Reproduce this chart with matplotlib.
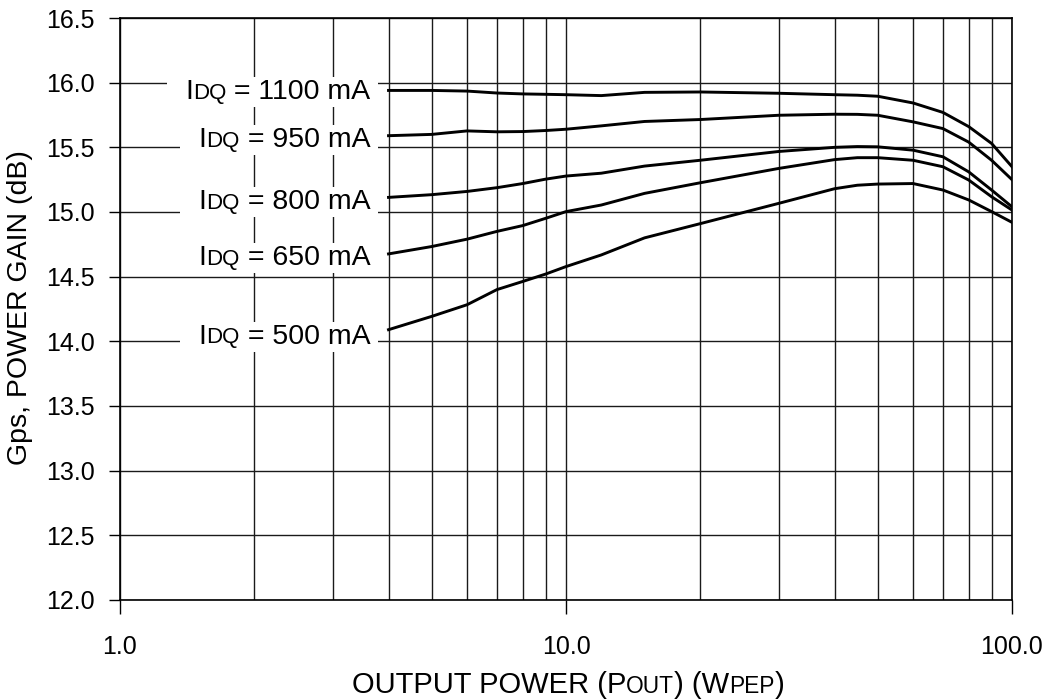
import numpy as np
import matplotlib
matplotlib.use("Agg")
import matplotlib.pyplot as plt
from matplotlib.patches import Rectangle
from matplotlib.transforms import IdentityTransform, Bbox
from matplotlib.ticker import FixedLocator, FuncFormatter, NullFormatter

plt.rcParams["font.family"] = ["Liberation Sans", "DejaVu Sans"]

# output power (W PEP) where the curves were read
POUT = [4, 5, 6, 7, 8, 9, 10, 12, 15, 20, 30, 40, 45, 50, 60, 70, 80, 90, 100]

# power gain (dB) for each quiescent drain current
GAIN_1100 = [15.94, 15.94, 15.935, 15.92, 15.913, 15.91, 15.907, 15.90, 15.925, 15.928,
             15.918, 15.907, 15.903, 15.895, 15.843, 15.77, 15.66, 15.53, 15.35]
GAIN_950 = [15.59, 15.60, 15.627, 15.62, 15.622, 15.63, 15.64, 15.666, 15.70, 15.715,
            15.748, 15.756, 15.755, 15.748, 15.697, 15.645, 15.54, 15.40, 15.25]
GAIN_800 = [15.113, 15.134, 15.159, 15.188, 15.22, 15.254, 15.278, 15.30, 15.355, 15.40,
            15.468, 15.50, 15.506, 15.504, 15.478, 15.427, 15.31, 15.17, 15.04]
GAIN_650 = [14.676, 14.733, 14.79, 14.85, 14.895, 14.951, 15.003, 15.054, 15.144, 15.226,
            15.337, 15.405, 15.42, 15.42, 15.40, 15.35, 15.247, 15.118, 15.015]
GAIN_500 = [14.09, 14.193, 14.283, 14.40, 14.463, 14.52, 14.578, 14.668, 14.80, 14.91,
            15.067, 15.18, 15.207, 15.216, 15.22, 15.17, 15.093, 15.003, 14.92]

IDQ_MA = ["1100", "950", "800", "650", "500"]
LABEL_Y = [15.95, 15.58, 15.10, 14.67, 14.06]
LABEL_X = 3.64

X_MAJOR = [1, 10, 100]
X_MINOR = [2, 3, 4, 5, 6, 7, 8, 9, 20, 30, 40, 50, 60, 70, 80, 90]

DESC = 0.212  # font descent, fraction of size
SMALL = 0.78  # size ratio for the small-caps style subscripts


def chain(ax, first, pieces, side):
    # attach pieces of text one after another, keeping a common baseline
    prev, prev_size = first, first.get_fontsize()
    out = []
    for txt, size in pieces:
        a = ax.annotate(txt, xy=(1, 0) if side == "right" else (0, 0), xycoords=prev,
                        xytext=(0, DESC * (prev_size - size)), textcoords="offset points",
                        ha="left" if side == "right" else "right", va="bottom",
                        fontsize=size, zorder=6, annotation_clip=False)
        out.append(a)
        prev, prev_size = a, size
    return out


def idq_label(ax, x, y, value, fs=20.5):
    drop = -0.36 * fs
    main = ax.annotate(f" = {value} mA", xy=(x, y), xytext=(0, drop), textcoords="offset points",
                       ha="right", va="baseline", fontsize=fs, zorder=6)
    return [main] + chain(ax, main, [("DQ", fs * SMALL), ("I", fs)], "left")


fig = plt.figure(figsize=(10.52, 7.0), dpi=100)
ax = fig.add_axes([120 / 1052, 100 / 700, 892 / 1052, 582 / 700])

for g in [GAIN_1100, GAIN_950, GAIN_800, GAIN_650, GAIN_500]:
    ax.plot(POUT, g, color="black", lw=2.1, zorder=3, solid_joinstyle="round")

ax.set_xscale("log")
ax.set_xlim(1, 100)
ax.set_ylim(12.0, 16.5)
ax.set_yticks(np.arange(12.0, 16.51, 0.5))
ax.yaxis.set_major_formatter(FuncFormatter(lambda v, p: f"{v:.1f}"))
ax.xaxis.set_major_locator(FixedLocator(X_MAJOR))
ax.xaxis.set_minor_locator(FixedLocator(X_MINOR))
ax.xaxis.set_major_formatter(FuncFormatter(lambda v, p: f"{v:.1f}"))
ax.xaxis.set_minor_formatter(NullFormatter())

ax.tick_params(axis="x", which="major", direction="out", length=10, width=1, pad=15, labelsize=18)
ax.tick_params(axis="x", which="minor", length=0)
ax.tick_params(axis="y", direction="out", length=8, width=1, pad=10, labelsize=18)
ax.grid(True, which="both", axis="x", color="#1a1a1a", lw=1.0, zorder=1)
ax.grid(True, which="major", axis="y", color="#1a1a1a", lw=1.0, zorder=1)
ax.set_axisbelow(True)
for s in ax.spines.values():
    s.set_linewidth(1.2)

groups = [idq_label(ax, LABEL_X, ly, val) for val, ly in zip(IDQ_MA, LABEL_Y)]

fig.text(20 / 1052, 1 - 308 / 700, "Gps, POWER GAIN (dB)", rotation=90,
         ha="center", va="center", fontsize=20.5)

# x axis label with small-size subscripts, centred under the axes
xfs = 21
xpieces = [("OUTPUT POWER (P", xfs), ("OUT", xfs * SMALL), (") (W", xfs),
           ("PEP", xfs * SMALL), (")", xfs)]
renderer = fig.canvas.get_renderer()
width = 0
for txt, size in xpieces:
    t = fig.text(0, 0, txt, fontsize=size)
    width += t.get_window_extent(renderer).width
    t.remove()
x_left = 568 / 1052 - width / fig.bbox.width / 2
first = ax.annotate(xpieces[0][0], xy=(x_left, 7 / 700), xycoords="figure fraction",
                    ha="left", va="baseline", fontsize=xfs, annotation_clip=False)
chain(ax, first, xpieces[1:], "right")

# white boxes behind the curve labels, so the grid stops around them
fig.canvas.draw()
for grp in groups:
    bb = Bbox.union([t.get_window_extent() for t in grp])
    ax.add_patch(Rectangle((bb.x0 - 18, bb.y0 - 2), bb.width + 26, bb.height + 4,
                           transform=IdentityTransform(), fc="white", ec="none", zorder=5))

fig.savefig("out.png", dpi=100)
